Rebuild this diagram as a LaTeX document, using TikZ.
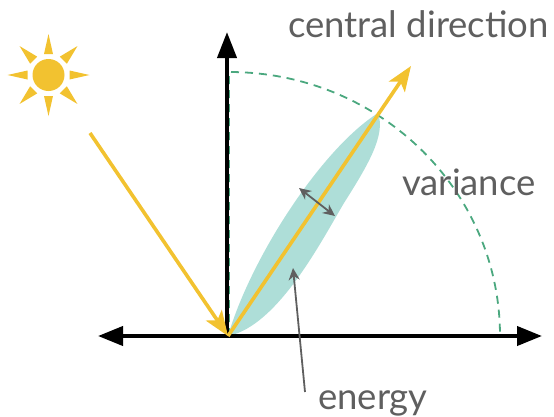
\documentclass[tikz,border=0pt]{standalone}
\usepackage{fontspec}
\setmainfont{Lato}
\usetikzlibrary{arrows.meta}
\definecolor{sunyellow}{HTML}{F2C230}
\definecolor{lobeteal}{HTML}{AEDED8}
\definecolor{arcgreen}{HTML}{4BA87F}
\definecolor{labelgray}{HTML}{5F5F5F}

\begin{document}
\begin{tikzpicture}[
        x=1pt, y=-1pt,
        label text/.style={text=labelgray, inner sep=0pt, font=\fontsize{36.5}{36.5}\selectfont},
        sun disc/.style={circle, fill=sunyellow, minimum size=32pt, inner sep=0pt},
        axis line/.style={line width=4pt, {Triangle[length=25pt,width=19pt]}-{Triangle[length=25pt,width=19pt]}},
        axis up/.style={line width=4pt, -{Triangle[length=26pt,width=19pt]}},
        ray line/.style={line width=3.6pt, sunyellow, -{Stealth[length=25pt,width=19pt,inset=6pt]}},
        note line/.style={line width=1.8pt, labelgray}
    ]
        \useasboundingbox (0,0) rectangle (554,416);

        \coordinate (o) at (228,336);
        \coordinate (tip) at (378,113);
        \coordinate (raystart) at (90,133);
        \coordinate (rayend) at (411,66);
        \coordinate (left) at (98,336);
        \coordinate (right) at (542,336);
        \coordinate (up) at (227,32);

        % lobe
        \fill[lobeteal] (o) .. controls (250,260) and (320,150) .. (tip)
            .. controls (386,135) and (368,165) .. (344,203)
            .. controls (322,240) and (278,326) .. (o) -- cycle;

        % dashed sector
        \draw[arcgreen, line width=1.8pt, dash pattern=on 8pt off 6pt]
            (229,336) -- (229,72) .. controls (379,72) and (500,190) .. (500,336) -- cycle;

        % axes
        \draw[axis line] (left) -- (right);
        \draw[axis up] (227,336) -- (up);

        % sun
        \node[sun disc] (sun) at (48.5,75) {};
        \foreach \ang in {0,90,180,270}
            \fill[sunyellow, shift={(sun.center)}, rotate=\ang] (41,0) -- (21,-4.5) -- (21,4.5) -- cycle;
        \foreach \ang in {45,135,225,315}
            \fill[sunyellow, shift={(sun.center)}, rotate=\ang] (41,0) -- (21,-5) -- (21,5) -- cycle;

        % rays
        \draw[ray line] (raystart) -- (o);
        \draw[ray line] (o) -- (rayend);

        % labels
        \node[label text, anchor=base west] (central) at (288,37) {central direction};
        \node[label text, anchor=base west] (variance) at (402,195) {variance};
        \node[label text, anchor=base west] (energy) at (318,409) {energy};

        % notes
        \coordinate (varA) at (299,188);
        \coordinate (varB) at (335,216);
        \coordinate (enA) at (305,392);
        \coordinate (enB) at (293,268);
        \draw[note line, {Stealth[length=12pt,width=11pt]}-{Stealth[length=12pt,width=11pt]}] (varA) -- (varB);
        \draw[note line, -{Stealth[length=12pt,width=11pt]}] (enA) -- (enB);
    \end{tikzpicture}
\end{document}
